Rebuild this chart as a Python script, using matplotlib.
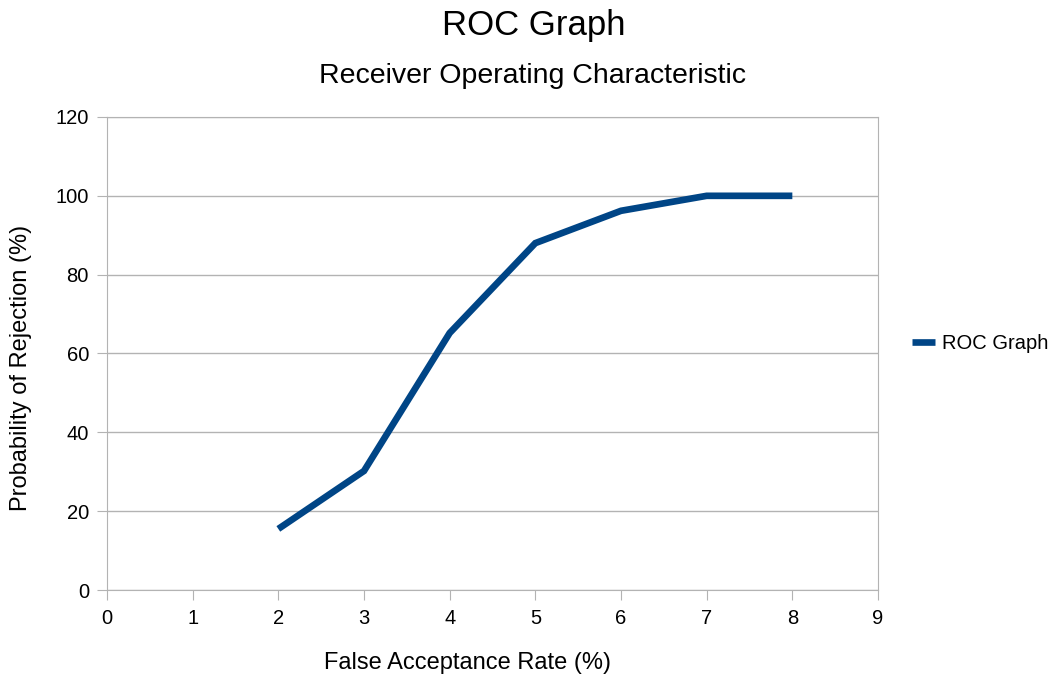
import matplotlib
matplotlib.use('Agg')
import matplotlib.pyplot as plt

plt.rcParams['font.family'] = ['Liberation Sans', 'DejaVu Sans']

# ROC data
far = [2, 3, 4, 5, 6, 7, 8]
rejection = [15.5, 30.2, 65.2, 88, 96.2, 100, 100]
x_ticks = list(range(0, 10))
y_ticks = list(range(0, 121, 20))

fig = plt.figure(figsize=(10.51, 6.77), dpi=100)
ax = fig.add_axes([0.1018, 0.1285, 0.7336, 0.6987])

ax.plot(far, rejection, color='#004586', linewidth=4.8, label='ROC Graph',
        solid_capstyle='butt', solid_joinstyle='miter')

ax.set_xlim(0, 9)
ax.set_ylim(0, 120)
ax.set_xticks(x_ticks)
ax.set_yticks(y_ticks)
ax.grid(axis='y', color='#b3b3b3', linewidth=1)
ax.set_axisbelow(True)
for s in ax.spines.values():
    s.set_color('#b3b3b3')
ax.tick_params(axis='both', length=7, color='#b3b3b3', labelsize=14.5)
ax.tick_params(axis='x', pad=7)
ax.tick_params(axis='y', pad=6)

# axis titles placed like the original (slightly off-centre)
fig.text(0.445, 0.0115, 'False Acceptance Rate (%)', ha='center', va='baseline', fontsize=17)
fig.text(0.02, 0.456, 'Probability of Rejection (%)', ha='center', va='center',
         rotation=90, fontsize=17)

fig.text(0.508, 0.948, 'ROC Graph', ha='center', va='baseline', fontsize=25)
fig.text(0.507, 0.877, 'Receiver Operating Characteristic', ha='center', va='baseline', fontsize=20.5)

fig.legend(loc='center left', bbox_to_anchor=(0.8678, 0.493), frameon=False,
           fontsize=14.5, handlelength=1.15, handletextpad=0.35, borderpad=0,
           borderaxespad=0)

fig.savefig('out.png', dpi=100)
